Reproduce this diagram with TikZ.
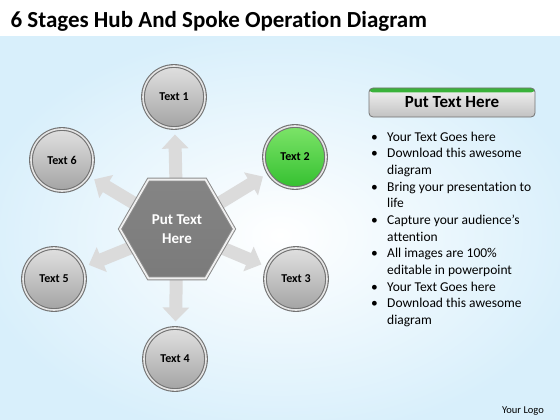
\documentclass[tikz,border=0pt]{standalone}
\usepackage{fontspec}
\setmainfont{Carlito}[Ligatures=NoCommon]
\usetikzlibrary{shapes.geometric,arrows.meta,positioning}
\pgfdeclarelayer{back}
\pgfsetlayers{back,main}
\definecolor{skyedge}{RGB}{216,239,251}
\definecolor{ballgreenlt}{RGB}{125,228,105}
\definecolor{ballgreen}{RGB}{52,192,48}
\definecolor{bandgreen}{RGB}{58,178,58}
\tikzset{
  stage/.style={circle,minimum size=62pt,inner sep=0pt,draw=black!55,line width=1.1pt,
    double=black!10,double distance=1.6pt,top color=black!12,bottom color=black!36,
    font=\bfseries\fontsize{12}{14}\selectfont},
  stagehot/.style={stage,top color=ballgreenlt,bottom color=ballgreen},
  hub/.style={regular polygon,regular polygon sides=6,minimum size=114pt,inner sep=0pt,
    draw=black!45,line width=1pt,double=black!6,double distance=1.8pt,
    top color=black!48,middle color=black!30,bottom color=black!52,text=white,align=center,
    font=\bfseries\fontsize{15}{19}\selectfont},
  spoke/.style={draw=black!14,line width=13pt,-{Triangle[width=26pt,length=14pt]},
    shorten >=6pt,shorten <=-12pt},
  headbox/.style={rectangle,rounded corners=4pt,minimum width=166pt,minimum height=29pt,
    top color=black!5,bottom color=black!24,draw=black!55,line width=0.8pt,
    font=\bfseries\fontsize{17}{20}\selectfont,
    path picture={\fill[bandgreen] (path picture bounding box.north west) rectangle
      ([yshift=-4.5pt]path picture bounding box.north east);}}
}
\begin{document}
\begin{tikzpicture}[x=1pt,y=-1pt]
  \useasboundingbox (0,0) rectangle (560,420);
  \node (title) [anchor=base west,font=\bfseries\fontsize{23}{28}\selectfont] at (7,28)
    {6 Stages Hub And Spoke Operation Diagram};
  \node (hub) [hub] at (177,229) {Put Text\\Here};
  \node (t1) [stage] at (174,97) {Text 1};
  \node (t2) [stagehot] at (295,157) {Text 2};
  \node (t3) [stage] at (296,279) {Text 3};
  \node (t4) [stage] at (175,359) {Text 4};
  \node (t5) [stage] at (54,279) {Text 5};
  \node (t6) [stage] at (62,160) {Text 6};
  \begin{pgfonlayer}{back}
    \fill[white] (0,0) rectangle (560,420);
    \begin{scope}
      \clip (0,37) rectangle (560,420);
      \shade[inner color=white,outer color=skyedge] (-30,30) rectangle (590,440);
    \end{scope}
    \foreach \t in {t1,t2,t3,t4,t5,t6}
      \draw [spoke] (hub) -- (\t);
  \end{pgfonlayer}
  \node (head) [headbox] at (452,102.5) {Put Text Here};
  \node (list) [anchor=base west,inner sep=0pt,font=\fontsize{13.5}{16.7}\selectfont] at (371,141)
    {\begin{tabular}[t]{@{}p{16pt}@{}l@{}}
      \textbullet & Your Text Goes here\\
      \textbullet & Download this awesome\\
                  & diagram\\
      \textbullet & Bring your presentation to\\
                  & life\\
      \textbullet & Capture your audience’s\\
                  & attention\\
      \textbullet & All images are 100\%\\
                  & editable in powerpoint\\
      \textbullet & Your Text Goes here\\
      \textbullet & Download this awesome\\
                  & diagram
    \end{tabular}};
  \node (logo) [font=\fontsize{10.5}{12}\selectfont] at (523,411) {Your Logo};
\end{tikzpicture}
\end{document}
